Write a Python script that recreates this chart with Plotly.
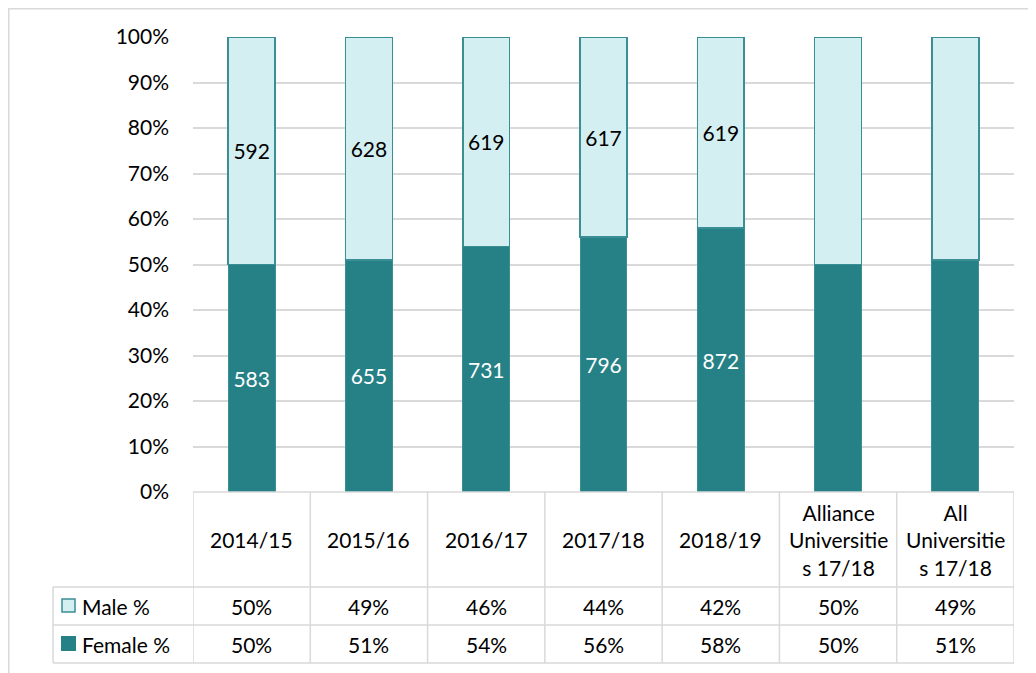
import plotly.graph_objects as go

categories = ["2014/15", "2015/16", "2016/17", "2017/18", "2018/19",
              "Alliance Universities 17/18", "All Universities 17/18"]
header_labels = ["2014/15", "2015/16", "2016/17", "2017/18", "2018/19",
                 "Alliance<br>Universitie<br>s 17/18", "All<br>Universitie<br>s 17/18"]
male_pct = [50, 49, 46, 44, 42, 50, 49]
female_pct = [50, 51, 54, 56, 58, 50, 51]
male_counts = [592, 628, 619, 617, 619, None, None]
female_counts = [583, 655, 731, 796, 872, None, None]
y_ticks = [0, 10, 20, 30, 40, 50, 60, 70, 80, 90, 100]

W, H = 1036, 673
OFF = 8  # page body margin in the browser
FONT = "Lato"
FS = 21
TEAL = "#268187"
LIGHT = "#D3EFF1"
EDGE = "#3A8F94"
GRID = "#D9D9D9"

def px(x):
    return (x - OFF) / W

def py(y):
    return 1 - (y - OFF) / H

fig = go.Figure()
fig.add_trace(go.Bar(
    x=categories, y=female_pct, name="Female %",
    marker=dict(color=TEAL, line=dict(color=EDGE, width=1)),
    text=[str(c) if c is not None else "" for c in female_counts],
    textposition="inside", insidetextanchor="middle", textangle=0,
    constraintext="none",
    textfont=dict(color="white", size=FS, family=FONT),
    hoverinfo="skip",
))
fig.add_trace(go.Bar(
    x=categories, y=male_pct, name="Male %",
    marker=dict(color=LIGHT, line=dict(color=EDGE, width=1.5)),
    text=[str(c) if c is not None else "" for c in male_counts],
    textposition="inside", insidetextanchor="middle", textangle=0,
    constraintext="none",
    textfont=dict(color="black", size=FS, family=FONT),
    hoverinfo="skip",
))

y_bot, y_top = 492, 37
row_hdr_bot = 587
row_male_bot = 625
row_fem_bot = 663
x_left_legend = 53

shapes = []
n = len(categories)
for i in range(n + 1):
    shapes.append(dict(type="line", xref="x", yref="paper",
                       x0=i - 0.5, x1=i - 0.5, y0=py(y_bot), y1=py(row_fem_bot),
                       line=dict(color=GRID, width=1.5)))
shapes.append(dict(type="line", xref="paper", yref="paper",
                   x0=px(x_left_legend), x1=px(x_left_legend),
                   y0=py(row_hdr_bot), y1=py(row_fem_bot),
                   line=dict(color=GRID, width=1.5)))
shapes.append(dict(type="line", xref="x", yref="paper", x0=-0.5, x1=n - 0.5,
                   y0=py(y_bot), y1=py(y_bot), line=dict(color=GRID, width=1.5)))
for yy in (row_hdr_bot, row_male_bot, row_fem_bot):
    shapes.append(dict(type="line", xref="paper", yref="paper",
                       x0=px(x_left_legend), x1=px(1014),
                       y0=py(yy), y1=py(yy), line=dict(color=GRID, width=1.5)))
shapes.append(dict(type="rect", xref="paper", yref="paper",
                   x0=px(62), x1=px(75), y0=py(612), y1=py(599),
                   fillcolor=LIGHT, line=dict(color=EDGE, width=1.5)))
shapes.append(dict(type="rect", xref="paper", yref="paper",
                   x0=px(61), x1=px(76), y0=py(651), y1=py(636),
                   fillcolor=TEAL, line=dict(color=TEAL, width=0)))
shapes.append(dict(type="rect", xref="paper", yref="paper",
                   x0=px(OFF + 0.75), x1=1.05, y0=-0.05, y1=py(OFF + 0.75),
                   line=dict(color=GRID, width=1.5), layer="below"))

annotations = []
for cat, lab in zip(categories, header_labels):
    annotations.append(dict(x=cat, xref="x", y=py((y_bot + row_hdr_bot) / 2), yref="paper",
                            text=lab, showarrow=False, xanchor="center", yanchor="middle",
                            font=dict(family=FONT, size=FS, color="black")))
for cat, m, f in zip(categories, male_pct, female_pct):
    annotations.append(dict(x=cat, xref="x", y=py((row_hdr_bot + row_male_bot) / 2), yref="paper",
                            text=f"{m}%", showarrow=False, xanchor="center", yanchor="middle",
                            font=dict(family=FONT, size=FS, color="black")))
    annotations.append(dict(x=cat, xref="x", y=py((row_male_bot + row_fem_bot) / 2), yref="paper",
                            text=f"{f}%", showarrow=False, xanchor="center", yanchor="middle",
                            font=dict(family=FONT, size=FS, color="black")))
annotations.append(dict(x=px(80), xref="paper", y=py((row_hdr_bot + row_male_bot) / 2), yref="paper",
                        text="Male %", showarrow=False, xanchor="left", yanchor="middle",
                        font=dict(family=FONT, size=FS, color="black")))
annotations.append(dict(x=px(80), xref="paper", y=py((row_male_bot + row_fem_bot) / 2), yref="paper",
                        text="Female %", showarrow=False, xanchor="left", yanchor="middle",
                        font=dict(family=FONT, size=FS, color="black")))

fig.update_layout(
    template="none",
    width=W, height=H, margin=dict(l=0, r=0, t=0, b=0, pad=0, autoexpand=False),
    paper_bgcolor="white", plot_bgcolor="white",
    barmode="stack", bargap=0.6, showlegend=False,
    font=dict(family=FONT, size=FS, color="black"),
    xaxis=dict(domain=[px(193), px(1014)], type="category", range=[-0.5, n - 0.5],
               showticklabels=False, showgrid=False, zeroline=False, showline=False,
               ticks="", automargin=False),
    yaxis=dict(domain=[py(y_bot), py(y_top)], range=[0, 100],
               tickvals=y_ticks, ticktext=[f"{v}%" for v in y_ticks],
               showgrid=True, gridcolor=GRID, gridwidth=1.5, zeroline=False,
               showline=False, ticks="", ticklabelstandoff=23, automargin=False,
               tickfont=dict(family=FONT, size=FS, color="black")),
    shapes=shapes, annotations=annotations,
)
fig.write_html("out.html")
